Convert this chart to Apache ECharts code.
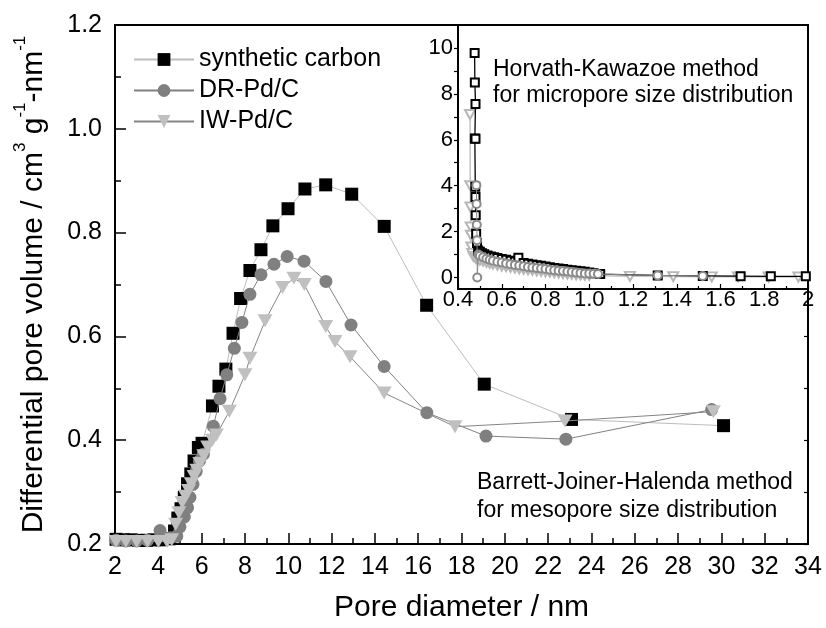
<!DOCTYPE html>
<html><head><meta charset="utf-8">
<script src="https://cdn.jsdelivr.net/npm/echarts@6/dist/echarts.min.js"></script>
<style>html,body{margin:0;padding:0;background:#fff}#c{width:826px;height:628px}</style>
</head><body><div id="c"></div>
<script>
const FONT = '"Liberation Sans", Arial, Helvetica, sans-serif';
const seriesNames = ['synthetic carbon', 'DR-Pd/C', 'IW-Pd/C'];

// Main chart: BJH mesopore distribution (pore diameter nm, dV/dD)
const scX = [2.05, 2.4, 2.75, 3.1, 3.45, 3.8, 4.15, 4.5, 4.75, 4.9, 5.05, 5.2, 5.35, 5.5, 5.65, 5.85, 6.02, 6.5, 6.8, 7.12, 7.45, 7.8, 8.23, 8.74, 9.29, 9.99, 10.77, 11.73, 12.93, 14.43, 16.39, 19.05, 23.08, 30.1];
const scY = [0.209, 0.208, 0.208, 0.207, 0.207, 0.208, 0.208, 0.21, 0.225, 0.25, 0.268, 0.29, 0.316, 0.335, 0.36, 0.386, 0.394, 0.466, 0.504, 0.537, 0.606, 0.673, 0.727, 0.767, 0.813, 0.846, 0.884, 0.892, 0.874, 0.812, 0.66, 0.508, 0.44, 0.428];

const drX = [2.05, 2.5, 3.0, 3.5, 4.08, 4.55, 4.85, 5.0, 5.2, 5.35, 5.46, 5.6, 5.75, 5.9, 6.08, 6.54, 6.85, 7.16, 7.51, 7.86, 8.23, 8.74, 9.34, 9.95, 10.73, 11.74, 12.9, 14.43, 16.4, 19.13, 22.82, 29.55];
const drY = [0.207, 0.206, 0.206, 0.207, 0.226, 0.212, 0.215, 0.233, 0.252, 0.27, 0.29, 0.315, 0.34, 0.36, 0.373, 0.427, 0.48, 0.526, 0.577, 0.627, 0.681, 0.719, 0.739, 0.754, 0.745, 0.706, 0.622, 0.542, 0.453, 0.408, 0.402, 0.459];

const iwX = [2.05, 2.5, 3.0, 3.5, 4.0, 4.4, 4.62, 4.8, 4.95, 5.1, 5.25, 5.4, 5.52, 5.65, 5.78, 5.92, 6.1, 6.28, 6.5, 6.68, 7.28, 8.0, 8.23, 8.93, 9.74, 10.26, 10.74, 11.73, 12.16, 12.85, 14.43, 17.7, 22.78, 29.63];
const iwY = [0.205, 0.205, 0.205, 0.205, 0.205, 0.205, 0.208, 0.238, 0.26, 0.28, 0.292, 0.303, 0.316, 0.33, 0.342, 0.355, 0.37, 0.387, 0.4, 0.41, 0.456, 0.526, 0.558, 0.63, 0.694, 0.712, 0.70, 0.619, 0.59, 0.561, 0.491, 0.426, 0.437, 0.455];

// Inset: Horvath-Kawazoe micropore distribution
const hkScX = [0.476, 0.477, 0.480, 0.477, 0.480, 0.479, 0.480, 0.481, 0.483, 0.487, 0.492, 0.50, 0.51, 0.52, 0.535, 0.55, 0.565, 0.58, 0.60, 0.62, 0.64, 0.66, 0.676, 0.70, 0.72, 0.74, 0.76, 0.78, 0.80, 0.82, 0.84, 0.86, 0.88, 0.90, 0.92, 0.94, 0.96, 0.98, 1.00, 1.02, 1.05, 1.313, 1.519, 1.692, 1.83, 1.99];
const hkScY = [9.78, 8.5, 7.56, 6.06, 6.05, 3.95, 3.51, 2.71, 1.91, 1.5, 1.18, 1.12, 1.06, 1.01, 0.96, 0.92, 0.88, 0.85, 0.81, 0.77, 0.73, 0.70, 0.86, 0.63, 0.60, 0.57, 0.54, 0.51, 0.48, 0.45, 0.42, 0.39, 0.37, 0.34, 0.32, 0.30, 0.27, 0.25, 0.22, 0.19, 0.15, 0.09, 0.07, 0.06, 0.05, 0.05];

const hkDrX = [0.484, 0.485, 0.486, 0.487, 0.488, 0.493, 0.50, 0.515, 0.53, 0.545, 0.56, 0.58, 0.60, 0.62, 0.64, 0.66, 0.68, 0.70, 0.72, 0.74, 0.76, 0.78, 0.80, 0.82, 0.84, 0.86, 0.88, 0.90, 0.92, 0.94, 0.96, 0.98, 1.00, 1.02, 1.04, 1.313, 1.519];
const hkDrY = [4.02, 3.2, 2.3, 1.62, 0.0, 1.0, 0.95, 0.88, 0.82, 0.77, 0.73, 0.69, 0.65, 0.61, 0.58, 0.55, 0.52, 0.49, 0.46, 0.44, 0.41, 0.39, 0.37, 0.34, 0.32, 0.30, 0.28, 0.26, 0.24, 0.22, 0.20, 0.18, 0.17, 0.16, 0.15, 0.09, 0.07];

const hkIwX = [0.455, 0.456, 0.457, 0.458, 0.459, 0.461, 0.465, 0.47, 0.48, 0.49, 0.50, 0.515, 0.53, 0.545, 0.56, 0.58, 0.60, 0.62, 0.64, 0.66, 0.68, 0.70, 0.72, 0.74, 0.76, 0.78, 0.80, 0.82, 0.84, 0.86, 0.88, 0.90, 0.92, 0.94, 0.96, 0.98, 1.0, 1.186, 1.384, 1.56, 1.68, 1.82, 1.956];
const hkIwY = [7.1, 4.0, 3.07, 2.2, 1.84, 1.33, 1.05, 0.92, 0.85, 0.80, 0.76, 0.71, 0.66, 0.62, 0.58, 0.54, 0.50, 0.47, 0.44, 0.41, 0.38, 0.36, 0.33, 0.31, 0.29, 0.27, 0.25, 0.23, 0.21, 0.19, 0.17, 0.15, 0.14, 0.12, 0.11, 0.10, 0.09, 0.05, 0.04, 0.03, 0.03, 0.02, 0.02];

const insetYLabelValues = [0, 2, 4, 6, 8, 10];
const insetYTickValues = [0, 1, 2, 3, 4, 5, 6, 7, 8, 9, 10];
const xTitle = 'Pore diameter / nm';
const hkText = 'Horvath-Kawazoe method\nfor micropore size distribution';
const bjhText = 'Barrett-Joiner-Halenda method\nfor mesopore size distribution';

const pairs = (xs, ys) => xs.map((x, i) => [x, ys[i]]);

const chart = echarts.init(document.getElementById('c'), null, {renderer: 'canvas'});
const black = '#000';
const option = {
  animation: false,
  backgroundColor: '#fff',
  textStyle: {fontFamily: FONT},
  grid: [
    {left: 115, right: 18, top: 25, bottom: 81, show: true, borderColor: black, borderWidth: 2, backgroundColor: 'transparent'},
    {left: 458, right: 18, top: 25, height: 264, show: true, borderColor: black, borderWidth: 2, backgroundColor: '#fff', z: 5}
  ],
  legend: {
    data: seriesNames, orient: 'vertical', left: 128, top: 42, itemGap: 6,
    itemWidth: 60, itemHeight: 16,
    textStyle: {fontSize: 25, color: black, fontFamily: FONT}
  },
  xAxis: [
    {gridIndex: 0, type: 'value', min: 2, max: 34, interval: 2,
     name: xTitle, nameLocation: 'middle', nameGap: 49,
     nameTextStyle: {fontSize: 30, color: black, fontFamily: FONT},
     axisLine: {show: true, onZero: false, lineStyle: {color: black, width: 2}},
     axisTick: {show: true, inside: true, length: 11, lineStyle: {color: black, width: 1.5}},
     minorTick: {show: true, splitNumber: 2, length: 6, lineStyle: {color: black, width: 1.5}},
     axisLabel: {fontSize: 25, color: black, margin: 11, fontFamily: FONT},
     splitLine: {show: false}},
    {gridIndex: 1, type: 'value', min: 0.4, max: 2, interval: 0.2,
     axisLine: {show: true, onZero: false, lineStyle: {color: black, width: 2}},
     axisTick: {show: true, inside: true, length: 5, lineStyle: {color: black, width: 1.2}},
     minorTick: {show: true, splitNumber: 2, length: 3, lineStyle: {color: black, width: 1.2}},
     axisLabel: {fontSize: 22, color: black, margin: 0, fontFamily: FONT,
       formatter: v => (Math.abs(v - 2) < 1e-9 ? '2' : v.toFixed(1))},
     splitLine: {show: false}, z: 6}
  ],
  yAxis: [
    {gridIndex: 0, type: 'value', min: 0.2, max: 1.2, interval: 0.2,
     name: '{t|Differential pore volume / cm}{s|3}{t| g}{s|-1}{t|-nm}{s|-1}',
     nameLocation: 'middle', nameGap: 59, nameRotate: 90,
     nameTextStyle: {color: black, fontFamily: FONT, rich: {
       t: {fontSize: 30, lineHeight: 44, color: black, fontFamily: FONT},
       s: {fontSize: 17, lineHeight: 12, verticalAlign: 'top', color: black, fontFamily: FONT}
     }},
     axisLine: {show: true, onZero: false, lineStyle: {color: black, width: 2}},
     axisTick: {show: true, inside: true, length: 11, lineStyle: {color: black, width: 1.5}},
     minorTick: {show: true, splitNumber: 2, length: 6, lineStyle: {color: black, width: 1.5}},
     axisLabel: {fontSize: 25, color: black, margin: 13, fontFamily: FONT, formatter: v => v.toFixed(1)},
     splitLine: {show: false}},
    {gridIndex: 0, type: 'value', position: 'right', min: 0.2, max: 1.2, interval: 0.1,
     axisLine: {show: false},
     axisTick: {show: true, inside: true, length: 4, lineStyle: {color: black, width: 1.2}},
     axisLabel: {show: false}, splitLine: {show: false}},
    {gridIndex: 1, type: 'value', min: -0.5, max: 11,
     axisLine: {show: true, onZero: false, lineStyle: {color: black, width: 2}},
     axisTick: {show: true, inside: false, length: 4, customValues: insetYTickValues, lineStyle: {color: black, width: 1.2}},
     axisLabel: {fontSize: 22, color: black, margin: 5, fontFamily: FONT, customValues: insetYLabelValues},
     splitLine: {show: false}, z: 6}
  ],
  series: [
    {name: seriesNames[0], type: 'line', xAxisIndex: 0, yAxisIndex: 0, data: pairs(scX, scY),
     symbol: 'rect', symbolSize: 13, itemStyle: {color: '#000'}, showAllSymbol: true,
     lineStyle: {color: '#bdbdbd', width: 1}, z: 2},
    {name: seriesNames[1], type: 'line', xAxisIndex: 0, yAxisIndex: 0, data: pairs(drX, drY),
     symbol: 'circle', symbolSize: 13, itemStyle: {color: '#808080'}, showAllSymbol: true,
     lineStyle: {color: '#808080', width: 1}, z: 3},
    {name: seriesNames[2], type: 'line', xAxisIndex: 0, yAxisIndex: 0, data: pairs(iwX, iwY),
     symbol: 'triangle', symbolRotate: 180, symbolSize: [15, 13], itemStyle: {color: '#c0c0c0'}, showAllSymbol: true,
     lineStyle: {color: '#858585', width: 1}, z: 4},
    {name: 'HK IW', type: 'line', xAxisIndex: 1, yAxisIndex: 2, data: pairs(hkIwX, hkIwY),
     symbol: 'emptyTriangle', symbolRotate: 180, symbolSize: [10, 9], showAllSymbol: true,
     itemStyle: {color: '#b8b8b8', borderWidth: 1},
     lineStyle: {color: '#c4c4c4', width: 1.5}, z: 10},
    {name: 'HK SC', type: 'line', xAxisIndex: 1, yAxisIndex: 2, data: pairs(hkScX, hkScY),
     symbol: 'emptyRect', symbolSize: 8, showAllSymbol: true,
     itemStyle: {color: '#000', borderWidth: 1},
     lineStyle: {color: '#000', width: 1.3}, z: 11},
    {name: 'HK DR', type: 'line', xAxisIndex: 1, yAxisIndex: 2, data: pairs(hkDrX, hkDrY),
     symbol: 'emptyCircle', symbolSize: 8, showAllSymbol: true,
     itemStyle: {color: '#8a8a8a', borderWidth: 1},
     lineStyle: {color: '#8a8a8a', width: 1}, z: 12}
  ],
  graphic: [
    {type: 'text', left: 493, top: 57, z: 100,
     style: {text: hkText, font: '23px ' + FONT, lineHeight: 26, fill: '#000'}},
    {type: 'text', left: 477, top: 469, z: 100,
     style: {text: bjhText, font: '23px ' + FONT, lineHeight: 28, fill: '#000'}}
  ]
};
chart.setOption(option);
</script></body></html>
